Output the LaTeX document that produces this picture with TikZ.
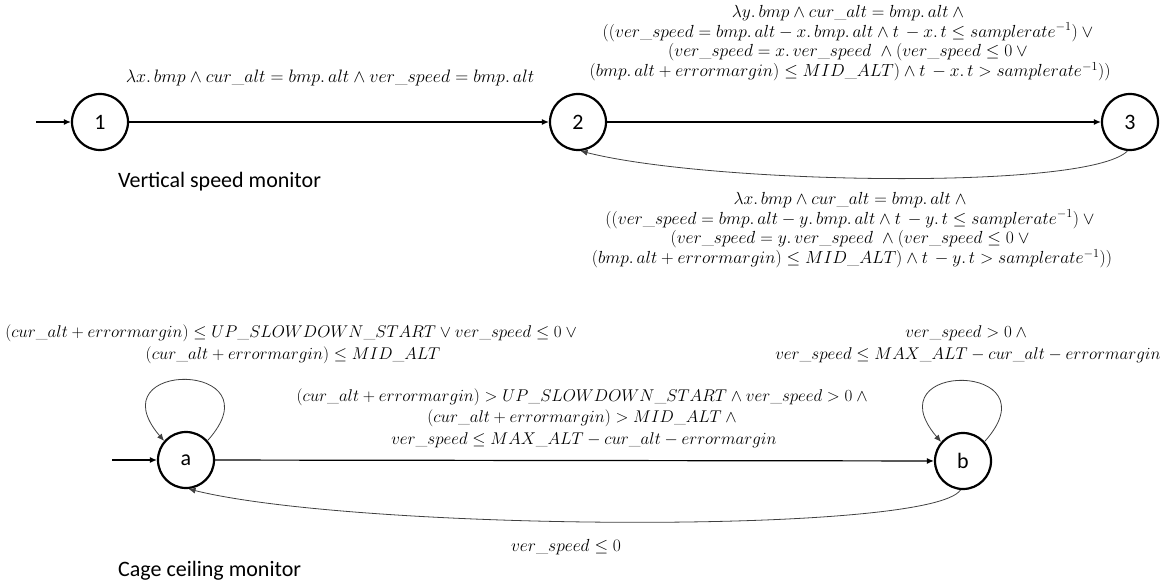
\RequirePackage{fix-cm}
\documentclass[tikz,border=0pt]{standalone}
\usepackage{fontspec}
\newfontfamily\carl{Carlito}
\usetikzlibrary{arrows.meta}
\begin{document}
\begin{tikzpicture}[x=1pt,y=-1pt,
  state/.style={circle,draw,line width=2.2pt,minimum size=56pt,inner sep=0pt,font=\carl\fontsize{22}{22}\selectfont},
  edge/.style={-{Latex[length=7pt,width=6pt]},line width=1.2pt},
  back/.style={-{Latex[length=7pt,width=6pt]},line width=0.8pt,draw=black!75},
  lab/.style={align=center,font=\fontsize{17.5}{19.7}\selectfont,inner sep=0pt},
  labw/.style={lab,font=\fontsize{17}{21.7}\selectfont},
  mcaption/.style={font=\carl\fontsize{22}{22}\selectfont,anchor=west,inner sep=0pt}]
\useasboundingbox (0,0) rectangle (1174,588);

% ---- Vertical speed monitor ----
\node[state] (n1) at (100,122) {1};
\node[state] (n2) at (578,122) {2};
\node[state] (n3) at (1130,122) {3};
\coordinate (s1) at (36,122);
\draw[edge] (s1) -- (n1);
\draw[edge] (n1) -- (n2);
\draw[edge] (n2) -- (n3);
\draw[back] (n3.-95) .. controls +(-40,40) and +(130,33) .. (n2.-85);

\node[lab,font=\fontsize{18}{19.7}\selectfont] (l12) at (330,78) {$\lambda x.\,bmp \wedge cur\_alt = bmp.\,alt \wedge ver\_speed = bmp.\,alt$};
\node[lab] (l23) at (850,43) {$\lambda y.\,bmp \wedge cur\_alt = bmp.\,alt \wedge{}$\\
$((ver\_speed = bmp.\,alt - x.\,bmp.\,alt \wedge t\,-x.\,t \leq samplerate^{-1}) \vee{}$\\
$(ver\_speed = x.\,ver\_speed\ \wedge (ver\_speed \leq 0 \vee{}$\\
$(bmp.\,alt + errormargin) \leq MID\_ALT) \wedge t\,-x.\,t > samplerate^{-1}))$};
\node[lab] (l32) at (852,230) {$\lambda x.\,bmp \wedge cur\_alt = bmp.\,alt \wedge{}$\\
$((ver\_speed = bmp.\,alt - y.\,bmp.\,alt \wedge t\,-y.\,t \leq samplerate^{-1}) \vee{}$\\
$(ver\_speed = y.\,ver\_speed\ \wedge (ver\_speed \leq 0 \vee{}$\\
$(bmp.\,alt + errormargin) \leq MID\_ALT) \wedge t\,-y.\,t > samplerate^{-1}))$};
\node[mcaption] (c1) at (118,182) {Vertical speed monitor};

% ---- Cage ceiling monitor ----
\node[state] (a) at (186,460) {a};
\node[state] (b) at (963,461) {b};
\coordinate (sa) at (112,460);
\draw[edge] (sa) -- (a);
\draw[edge] (a) -- (b);
\draw[back] (a.42) .. controls +(72,-80) and +(-70,-82) .. (a.139);
\draw[back] (b.42) .. controls +(72,-80) and +(-70,-82) .. (b.139);
\draw[back] (b.-95) .. controls +(-30,45) and +(170,42) .. (a.-85);

\node[labw] (laa) at (293,344) {$(cur\_alt + errormargin) \leq UP\_SLOWDOWN\_START \vee ver\_speed \leq 0 \vee{}$\\
$(cur\_alt + errormargin) \leq MID\_ALT$};
\node[labw] (lbb) at (968,344) {$ver\_speed > 0 \wedge{}$\\
$ver\_speed \leq MAX\_ALT - cur\_alt - errormargin$};
\node[labw] (lab) at (584,418) {$(cur\_alt + errormargin) > UP\_SLOWDOWN\_START \wedge ver\_speed > 0 \wedge{}$\\
$(cur\_alt + errormargin) > MID\_ALT \wedge{}$\\
$ver\_speed \leq MAX\_ALT - cur\_alt - errormargin$};
\node[lab] (lba) at (566,547) {$ver\_speed \leq 0$};
\node[mcaption] (c2) at (118,571) {Cage ceiling monitor};
\end{tikzpicture}
\end{document}
